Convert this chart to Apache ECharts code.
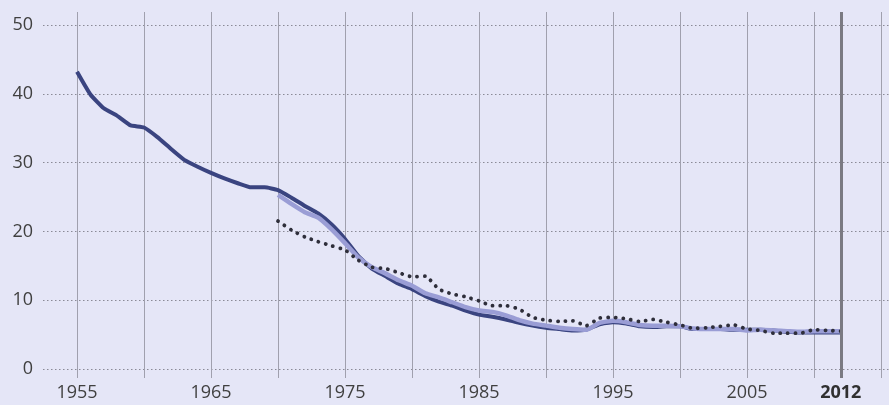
<!DOCTYPE html>
<html><head><meta charset="utf-8">
<script src="https://cdn.jsdelivr.net/npm/echarts@6/dist/echarts.min.js"></script>
<style>html,body{margin:0;padding:0;background:#e5e6f7}#c{width:889px;height:405px}</style>
</head><body><div id="c"></div>
<script>
const yearsA = [1955,1956,1957,1958,1959,1960,1961,1962,1963,1964,1965,1966,1967,1968,1969,1970,1971,1972,1973,1974,1975,1976,1977,1978,1979,1980,1981,1982,1983,1984,1985,1986,1987,1988,1989,1990,1991,1992,1993,1994,1995,1996,1997,1998,1999,2000,2001,2002,2003,2004,2005,2006,2007,2008,2009,2010,2011,2012];
const valuesA = [43.2,39.9,37.9,36.8,35.4,35.1,33.7,32.0,30.4,29.4,28.5,27.7,27.0,26.4,26.4,26.0,24.9,23.7,22.6,21.0,18.9,16.4,14.6,13.5,12.4,11.6,10.6,9.8,9.2,8.5,7.9,7.6,7.2,6.7,6.3,6.0,5.8,5.6,5.7,6.5,6.8,6.6,6.2,6.1,6.2,6.2,5.8,5.8,5.8,5.7,5.7,5.7,5.6,5.4,5.3,5.3,5.3,5.3];
const yearsB = [1970,1971,1972,1973,1974,1975,1976,1977,1978,1979,1980,1981,1982,1983,1984,1985,1986,1987,1988,1989,1990,1991,1992,1993,1994,1995,1996,1997,1998,1999,2000,2001,2002,2003,2004,2005,2006,2007,2008,2009,2010,2011,2012];
const valuesB = [25.3,24.0,22.8,22.0,20.3,18.3,16.2,14.8,13.9,12.9,12.1,11.0,10.4,9.7,9.0,8.5,8.3,7.8,7.1,6.6,6.3,6.0,5.8,5.7,6.7,7.0,6.8,6.4,6.3,6.3,6.2,5.9,5.8,5.8,5.8,5.6,5.7,5.6,5.5,5.4,5.5,5.5,5.5];
const valuesC = [21.5,20.2,19.2,18.5,17.9,17.3,15.8,14.8,14.6,14.0,13.4,13.5,11.6,10.9,10.5,9.9,9.2,9.2,8.7,7.5,7.1,6.9,7.0,6.3,7.4,7.5,7.3,6.9,7.2,6.8,6.4,5.9,6.0,6.2,6.4,5.8,5.6,5.2,5.2,5.2,5.7,5.6,5.5];
const xTickYears = [1955,1960,1965,1970,1975,1980,1985,1990,1995,2000,2005,2010,2015];
const xLabelYears = [1955,1965,1975,1985,1995,2005,2012];
const yTicks = [0,10,20,30,40,50];
const markYear = 2012;

const pairs = (xs, vs) => xs.map((x, i) => [x, vs[i]]);
const chart = echarts.init(document.getElementById('c'), null, {renderer: 'canvas'});
chart.setOption({
  backgroundColor: '#e5e6f7',
  animation: false,
  grid: {left: 43, right: 0, top: 12, bottom: 27},
  xAxis: {
    type: 'value', min: 1952.46, max: 2015.6,
    axisLine: {show: false},
    axisTick: {show: false, customValues: xTickYears},
    splitLine: {show: true, lineStyle: {color: '#a0a0ae', width: 1}},
    axisLabel: {
      customValues: xLabelYears, margin: 6,
      fontFamily: 'Open Sans', fontSize: 18, color: '#404040',
      formatter: v => v === markYear ? '{b|' + v + '}' : String(v),
      rich: {b: {fontFamily: 'Open Sans', fontSize: 18, fontWeight: 'bold', color: '#303030'}}
    }
  },
  yAxis: {
    type: 'value', min: -1.31, max: 51.89,
    axisLine: {show: false},
    axisTick: {show: false, customValues: yTicks},
    splitLine: {show: true, lineStyle: {color: '#8a8a96', width: 1, type: [1.5, 2.5]}},
    axisLabel: {customValues: yTicks, margin: 10, fontFamily: 'Open Sans', fontSize: 18, color: '#404040'}
  },
  series: [
    {type: 'line', data: pairs(yearsB, valuesC), symbol: 'none', smooth: 0.15,
     lineStyle: {color: '#2e2e3a', width: 3.8, type: [0.1, 7.5], cap: 'round'}, z: 4},
    {type: 'line', data: pairs(yearsB, valuesB), symbol: 'none', smooth: 0.15,
     lineStyle: {color: '#9a9dd5', width: 4.5}, z: 3},
    {type: 'line', data: pairs(yearsA, valuesA), symbol: 'none', smooth: 0.15,
     lineStyle: {color: '#3a4480', width: 4}, z: 2,
     markLine: {silent: true, symbol: 'none', label: {show: false},
       lineStyle: {color: '#7a7a82', width: 3, type: 'solid'},
       data: [{xAxis: markYear}]}}
  ]
});
</script></body></html>
